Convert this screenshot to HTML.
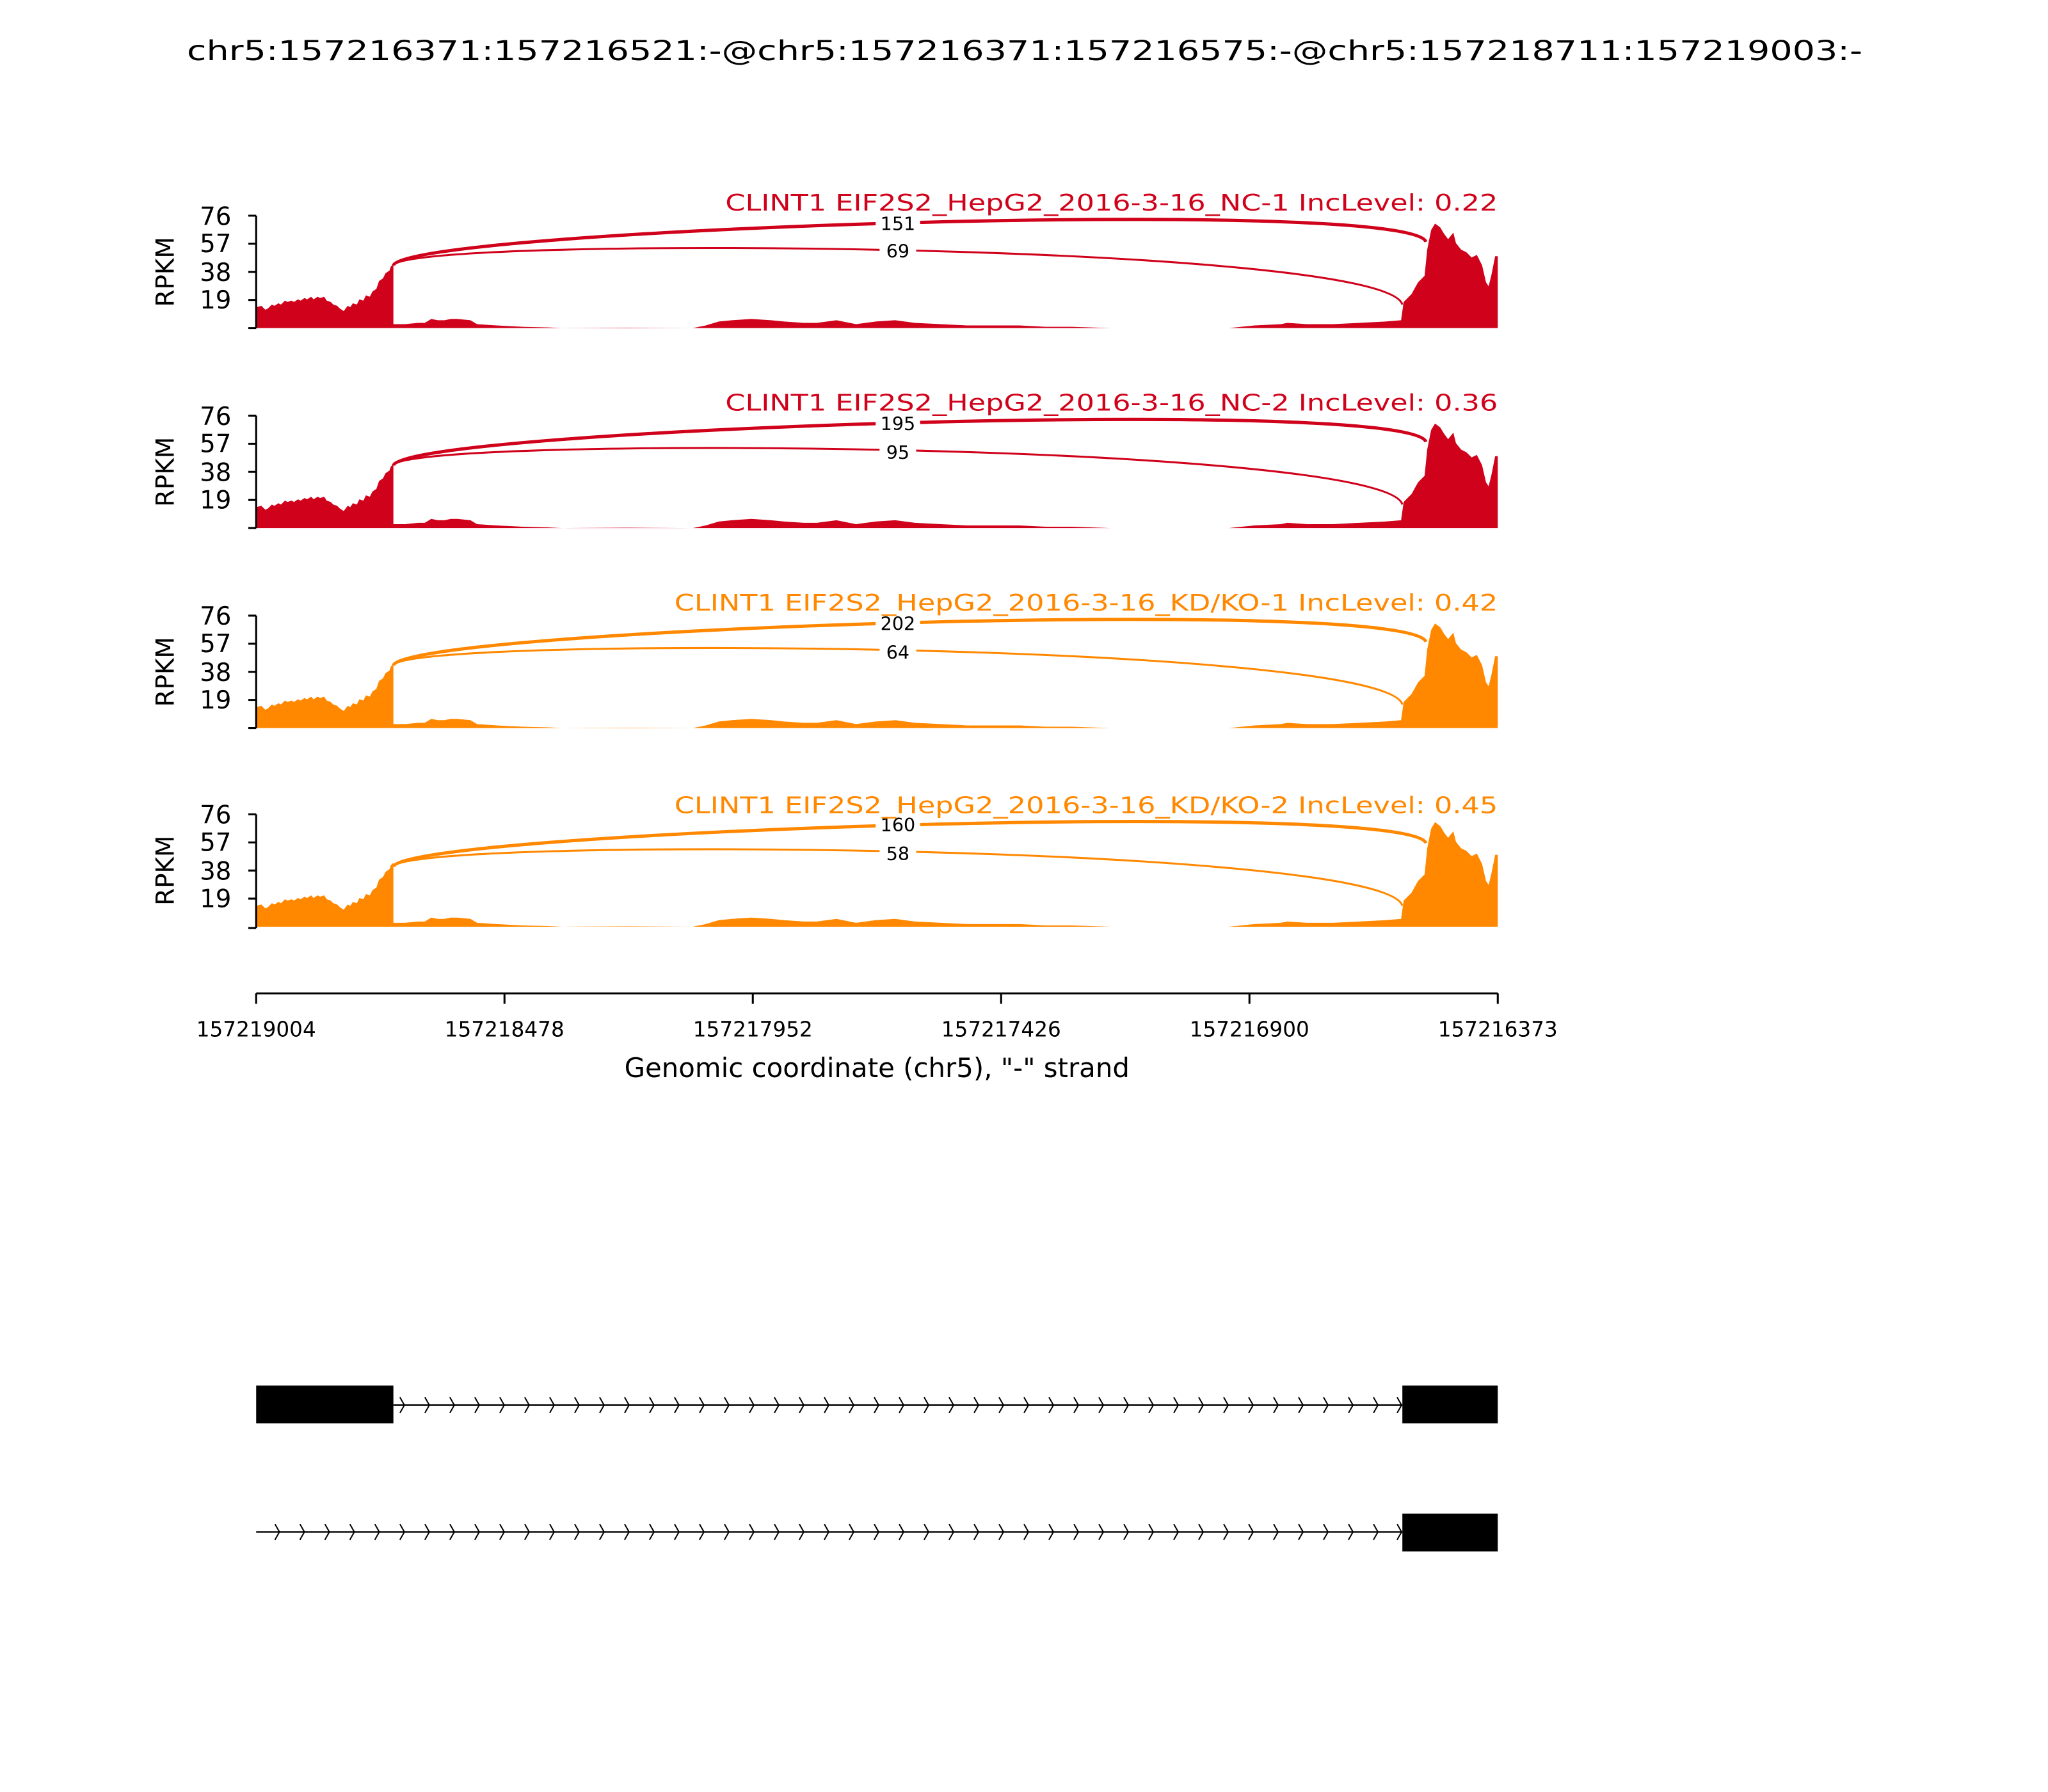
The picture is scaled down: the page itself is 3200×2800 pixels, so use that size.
<!DOCTYPE html>
<html><head><meta charset="utf-8"><style>
html,body{margin:0;padding:0;background:#fff;}
svg{display:block;font-family:"DejaVu Sans","Liberation Sans",sans-serif;}
</style></head><body>
<svg width="3200" height="2800" viewBox="0 0 1567 1371" preserveAspectRatio="none" xmlns="http://www.w3.org/2000/svg">
<defs>
<path id="cov" d="M196,0 L196,-16 L200,-17 L203,-14 L205,-15 L208,-18 L210,-17 L213,-19 L215,-18 L218,-21 L220,-20 L223,-21 L225,-20 L228,-22 L230,-21 L233,-23 L235,-22 L238,-24 L240,-22 L243,-24 L245,-23 L248,-24 L250,-21 L253,-20 L255,-18 L258,-17 L260,-15 L263,-13 L266,-17 L268,-16 L270,-19 L273,-18 L275,-22 L278,-21 L280,-25 L283,-24 L285,-28 L288,-30 L290,-36 L293,-38 L295,-42 L298,-44 L299,-47 L301,-49 L301,-3 L310,-3 L320,-4 L325,-4 L330,-7 L335,-6 L340,-6 L345,-7 L350,-7 L360,-6 L365,-3 L380,-2 L400,-1 L420,-0.5 L430,0 L480,-0.3 L530,0 L540,-2 L550,-5 L560,-6 L575,-7 L590,-6 L600,-5 L615,-4 L625,-4 L640,-6 L655,-3 L670,-5 L685,-6 L700,-4 L720,-3 L740,-2 L760,-2 L780,-2 L800,-1 L820,-1 L850,0 L940,0 L960,-2 L980,-3 L985,-4 L1000,-3 L1020,-3 L1040,-4 L1060,-5 L1072,-6 L1074,-20 L1076,-22 L1080,-26 L1085,-35 L1090,-40 L1092,-60 L1095,-75 L1098,-80 L1102,-77 L1105,-72 L1108,-68 L1112,-73 L1114,-65 L1118,-60 L1122,-58 L1126,-54 L1130,-56 L1134,-48 L1137,-35 L1139,-32 L1141,-40 L1144,-55 L1146,-55 L1146,0 Z"/>
</defs>
<text x="784" y="46" font-size="21" text-anchor="middle" textLength="1282" lengthAdjust="spacingAndGlyphs">chr5:157216371:157216521:-@chr5:157216371:157216575:-@chr5:157218711:157219003:-</text>

<g transform="translate(0,165)">
<use href="#cov" transform="translate(0,86)" fill="#d0021b"/>
<path d="M301,38 C310,10 1080,-15 1091,20" fill="none" stroke="#d0021b" stroke-width="2.5"/>
<path d="M301,38 C310,15 1060,20 1073,68" fill="none" stroke="#d0021b" stroke-width="1.5"/>
<rect x="670" y="-2" width="34" height="16" fill="#fff"/><text x="687" y="11" font-size="14" text-anchor="middle">151</text>
<rect x="673" y="19" width="28" height="16" fill="#fff"/><text x="687" y="32" font-size="14" text-anchor="middle">69</text>
<text x="1146" y="-4" font-size="17.5" fill="#d0021b" text-anchor="end" textLength="591" lengthAdjust="spacingAndGlyphs">CLINT1 EIF2S2_HepG2_2016-3-16_NC-1 IncLevel: 0.22</text>
</g>
<g transform="translate(0,318)">
<use href="#cov" transform="translate(0,86)" fill="#d0021b"/>
<path d="M301,38 C310,10 1080,-15 1091,20" fill="none" stroke="#d0021b" stroke-width="2.5"/>
<path d="M301,38 C310,15 1060,20 1073,68" fill="none" stroke="#d0021b" stroke-width="1.5"/>
<rect x="670" y="-2" width="34" height="16" fill="#fff"/><text x="687" y="11" font-size="14" text-anchor="middle">195</text>
<rect x="673" y="20" width="28" height="16" fill="#fff"/><text x="687" y="33" font-size="14" text-anchor="middle">95</text>
<text x="1146" y="-4" font-size="17.5" fill="#d0021b" text-anchor="end" textLength="591" lengthAdjust="spacingAndGlyphs">CLINT1 EIF2S2_HepG2_2016-3-16_NC-2 IncLevel: 0.36</text>
</g>
<g transform="translate(0,471)">
<use href="#cov" transform="translate(0,86)" fill="#ff8800"/>
<path d="M301,38 C310,10 1080,-15 1091,20" fill="none" stroke="#ff8800" stroke-width="2.5"/>
<path d="M301,38 C310,15 1060,20 1073,68" fill="none" stroke="#ff8800" stroke-width="1.5"/>
<rect x="670" y="-2" width="34" height="16" fill="#fff"/><text x="687" y="11" font-size="14" text-anchor="middle">202</text>
<rect x="673" y="20" width="28" height="16" fill="#fff"/><text x="687" y="33" font-size="14" text-anchor="middle">64</text>
<text x="1146" y="-4" font-size="17.5" fill="#ff8800" text-anchor="end" textLength="630" lengthAdjust="spacingAndGlyphs">CLINT1 EIF2S2_HepG2_2016-3-16_KD/KO-1 IncLevel: 0.42</text>
</g>
<g transform="translate(0,623)">
<use href="#cov" transform="translate(0,86)" fill="#ff8800"/>
<path d="M301,40 C310,13 1080,-12 1091,22" fill="none" stroke="#ff8800" stroke-width="2.5"/>
<path d="M301,40 C310,17 1060,22 1073,70" fill="none" stroke="#ff8800" stroke-width="1.5"/>
<rect x="670" y="0" width="34" height="16" fill="#fff"/><text x="687" y="13" font-size="14" text-anchor="middle">160</text>
<rect x="673" y="22" width="28" height="16" fill="#fff"/><text x="687" y="35" font-size="14" text-anchor="middle">58</text>
<text x="1146" y="-1" font-size="17.5" fill="#ff8800" text-anchor="end" textLength="630" lengthAdjust="spacingAndGlyphs">CLINT1 EIF2S2_HepG2_2016-3-16_KD/KO-2 IncLevel: 0.45</text>
</g>

<g font-size="19" text-anchor="end">
<g transform="translate(0,165)">
<path d="M196,0 V86 M190,0 H196 M190,21.5 H196 M190,43 H196 M190,64.5 H196 M190,86 H196" stroke="#000" stroke-width="1.5" fill="none"/>
<text x="177" y="7">76</text><text x="177" y="28">57</text><text x="177" y="50">38</text><text x="177" y="71">19</text>
<text transform="translate(133,43) rotate(-90)" text-anchor="middle">RPKM</text>
</g>
<g transform="translate(0,318)">
<path d="M196,0 V86 M190,0 H196 M190,21.5 H196 M190,43 H196 M190,64.5 H196 M190,86 H196" stroke="#000" stroke-width="1.5" fill="none"/>
<text x="177" y="7">76</text><text x="177" y="28">57</text><text x="177" y="50">38</text><text x="177" y="71">19</text>
<text transform="translate(133,43) rotate(-90)" text-anchor="middle">RPKM</text>
</g>
<g transform="translate(0,471)">
<path d="M196,0 V86 M190,0 H196 M190,21.5 H196 M190,43 H196 M190,64.5 H196 M190,86 H196" stroke="#000" stroke-width="1.5" fill="none"/>
<text x="177" y="7">76</text><text x="177" y="28">57</text><text x="177" y="50">38</text><text x="177" y="71">19</text>
<text transform="translate(133,43) rotate(-90)" text-anchor="middle">RPKM</text>
</g>
<g transform="translate(0,623)">
<path d="M196,0 V87 M190,0 H196 M190,21.5 H196 M190,43 H196 M190,64.5 H196 M190,87 H196" stroke="#000" stroke-width="1.5" fill="none"/>
<text x="177" y="7">76</text><text x="177" y="28">57</text><text x="177" y="50">38</text><text x="177" y="71">19</text>
<text transform="translate(133,43) rotate(-90)" text-anchor="middle">RPKM</text>
</g>
</g>

<path d="M196,760 H1146 M196,760 V768 M386,760 V768 M576,760 V768 M766,760 V768 M956,760 V768 M1146,760 V768" stroke="#000" stroke-width="1.5" fill="none"/>
<g font-size="16" text-anchor="middle">
<text x="196" y="793">157219004</text><text x="386" y="793">157218478</text><text x="576" y="793">157217952</text>
<text x="766" y="793">157217426</text><text x="956" y="793">157216900</text><text x="1146" y="793">157216373</text>
</g>
<text x="671" y="824" font-size="20.5" text-anchor="middle">Genomic coordinate (chr5), "-" strand</text>

<rect x="196" y="1060" width="105" height="29" fill="#000"/>
<rect x="1073" y="1060" width="73" height="29" fill="#000"/>
<line x1="301" y1="1075" x2="1073" y2="1075" stroke="#000" stroke-width="1.2"/>
<rect x="1073" y="1158" width="73" height="29" fill="#000"/>
<line x1="196" y1="1172" x2="1073" y2="1172" stroke="#000" stroke-width="1.2"/>
<g stroke="#000" stroke-width="1" fill="none">
<path id="chrow" d="M306,1069 l3.4,6 l-3.4,6 M325.1,1069 l3.4,6 l-3.4,6 M344.2,1069 l3.4,6 l-3.4,6 M363.3,1069 l3.4,6 l-3.4,6 M382.4,1069 l3.4,6 l-3.4,6 M401.5,1069 l3.4,6 l-3.4,6 M420.6,1069 l3.4,6 l-3.4,6 M439.7,1069 l3.4,6 l-3.4,6 M458.8,1069 l3.4,6 l-3.4,6 M477.9,1069 l3.4,6 l-3.4,6 M497,1069 l3.4,6 l-3.4,6 M516.1,1069 l3.4,6 l-3.4,6 M535.2,1069 l3.4,6 l-3.4,6 M554.3,1069 l3.4,6 l-3.4,6 M573.4,1069 l3.4,6 l-3.4,6 M592.5,1069 l3.4,6 l-3.4,6 M611.6,1069 l3.4,6 l-3.4,6 M630.7,1069 l3.4,6 l-3.4,6 M649.8,1069 l3.4,6 l-3.4,6 M668.9,1069 l3.4,6 l-3.4,6 M688,1069 l3.4,6 l-3.4,6 M707.1,1069 l3.4,6 l-3.4,6 M726.2,1069 l3.4,6 l-3.4,6 M745.3,1069 l3.4,6 l-3.4,6 M764.4,1069 l3.4,6 l-3.4,6 M783.5,1069 l3.4,6 l-3.4,6 M802.6,1069 l3.4,6 l-3.4,6 M821.7,1069 l3.4,6 l-3.4,6 M840.8,1069 l3.4,6 l-3.4,6 M859.9,1069 l3.4,6 l-3.4,6 M879,1069 l3.4,6 l-3.4,6 M898.1,1069 l3.4,6 l-3.4,6 M917.2,1069 l3.4,6 l-3.4,6 M936.3,1069 l3.4,6 l-3.4,6 M955.4,1069 l3.4,6 l-3.4,6 M974.5,1069 l3.4,6 l-3.4,6 M993.6,1069 l3.4,6 l-3.4,6 M1012.7,1069 l3.4,6 l-3.4,6 M1031.8,1069 l3.4,6 l-3.4,6 M1050.9,1069 l3.4,6 l-3.4,6 M1069,1069 l3.4,6 l-3.4,6"/>
<use href="#chrow" transform="translate(0,97)"/>
<path d="M210.4,1166 l3.4,6 l-3.4,6 M229.5,1166 l3.4,6 l-3.4,6 M248.6,1166 l3.4,6 l-3.4,6 M267.7,1166 l3.4,6 l-3.4,6 M286.8,1166 l3.4,6 l-3.4,6"/>
</g>
</svg>
</body></html>
